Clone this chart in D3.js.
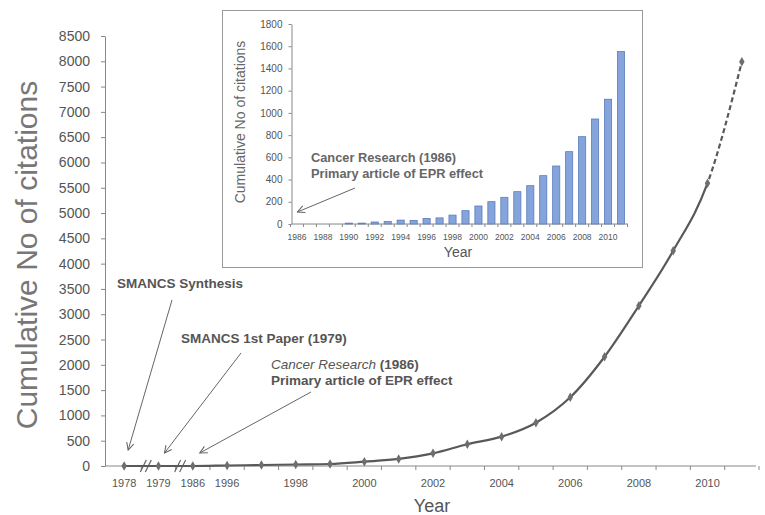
<!DOCTYPE html>
<html>
<head>
<meta charset="utf-8">
<script src="https://cdn.jsdelivr.net/npm/d3@7"></script>
<style>
    body { margin: 0; background: #fff; }
    svg { display: block; font-family: "Liberation Sans", Arial, sans-serif; }
</style>
</head>
<body>
<div id="chart"></div>
<script>
// Main chart data (cumulative citations)
const mainYears = ['1978', '1979', '1986', '1996', '1997', '1998', '1999', '2000', '2001', '2002',
    '2003', '2004', '2005', '2006', '2007', '2008', '2009', '2010', '2011'];
const mainValues = [0, 0, 0, 10, 20, 30, 40, 85, 140, 250, 430, 580, 856, 1358, 2160, 3168, 4255, 5590, 7990];
const mainTickLabels = ['1978', '1979', '1986', '1996', '1998', '2000', '2002', '2004', '2006', '2008', '2010'];
const mainYTicks = [0, 500, 1000, 1500, 2000, 2500, 3000, 3500, 4000, 4500, 5000, 5500, 6000, 6500, 7000, 7500, 8000, 8500];

// Inset data (Cancer Research 1986 article)
const insetYears = ['1986', '1987', '1988', '1989', '1990', '1991', '1992', '1993', '1994', '1995', '1996', '1997', '1998',
    '1999', '2000', '2001', '2002', '2003', '2004', '2005', '2006', '2007', '2008', '2009', '2010', '2011'];
const insetValues = [0, 0, 0, 0, 8, 8, 18, 22, 35, 32, 50, 55, 80, 120, 162, 201, 240, 291, 345, 435, 522, 651, 786, 945, 1123, 1552];
const insetTickLabels = ['1986', '1988', '1990', '1992', '1994', '1996', '1998', '2000', '2002', '2004', '2006', '2008', '2010'];
const insetYTicks = [0, 200, 400, 600, 800, 1000, 1200, 1400, 1600, 1800];

const width = 765;
const height = 515;
const textColor = '#555';
const axisColor = '#888';

const svg = d3.select('#chart')
    .append('svg')
    .attr('width', width)
    .attr('height', height);

// Arrow marker
svg.append('defs')
    .append('marker')
    .attr('id', 'arrow')
    .attr('viewBox', '0 0 10 10')
    .attr('refX', 9)
    .attr('refY', 5)
    .attr('markerWidth', 9)
    .attr('markerHeight', 9)
    .attr('markerUnits', 'userSpaceOnUse')
    .attr('orient', 'auto')
    .append('path')
    .attr('d', 'M1,1 L9,5 L1,9')
    .attr('fill', 'none')
    .attr('stroke', '#666')
    .attr('stroke-width', 1.2);

// ---------- Main chart ----------
const x = d3.scaleBand()
    .domain(mainYears)
    .range([107, 759]);
const bw = x.bandwidth();
const cx = d => x(d) + bw / 2;

const y = d3.scaleLinear()
    .domain([0, 8500])
    .range([466, 36]);

// Y axis
const yAxis = svg.append('g')
    .attr('transform', 'translate(105,0)')
    .call(d3.axisLeft(y).tickValues(mainYTicks).tickFormat(d3.format('d'))
        .tickSize(4).tickPadding(11).tickSizeOuter(0));
yAxis.select('.domain').attr('stroke', axisColor);
yAxis.selectAll('.tick line').attr('stroke', axisColor);
yAxis.selectAll('text').attr('fill', textColor).attr('font-size', 14);

// X axis
const xAxis = svg.append('g')
    .attr('transform', `translate(0,${y(0)})`)
    .call(d3.axisBottom(x).tickValues(mainTickLabels).tickSize(0).tickPadding(13));
xAxis.select('.domain').attr('stroke', axisColor).attr('d', `M105,0H756`);
xAxis.selectAll('text').attr('fill', textColor).attr('font-size', 11);

// X tick marks at category boundaries
xAxis.selectAll('.bound')
    .data(mainYears.slice(1).concat(['end']))
    .join('line')
    .attr('class', 'bound')
    .attr('x1', d => d === 'end' ? x.range()[1] : x(d))
    .attr('x2', d => d === 'end' ? x.range()[1] : x(d))
    .attr('y1', 0)
    .attr('y2', 4)
    .attr('stroke', axisColor);

// Axis break marks
[['1978', '1979'], ['1979', '1986']].forEach(pair => {
    const mid = x(pair[1]) + 6;
    [-4, 1].forEach(off => {
        xAxis.append('line')
            .attr('x1', mid + off - 3)
            .attr('x2', mid + off + 3)
            .attr('y1', 6)
            .attr('y2', -6)
            .attr('stroke', '#666')
            .attr('stroke-width', 1.2);
    });
});

// Axis titles
svg.append('text')
    .attr('transform', `translate(37,${(y(0) + y(8500)) / 2 + 4}) rotate(-90)`)
    .attr('text-anchor', 'middle')
    .attr('font-size', 30)
    .attr('fill', '#777')
    .text('Cumulative No of citations');

svg.append('text')
    .attr('x', 432)
    .attr('y', 512)
    .attr('text-anchor', 'middle')
    .attr('font-size', 18)
    .attr('fill', textColor)
    .text('Year');

// Line
const mainData = mainYears.map((d, i) => ({ year: d, value: mainValues[i] }));
const line = d3.line()
    .x(d => cx(d.year))
    .y(d => y(d.value))
    .curve(d3.curveMonotoneX);

const splitX = cx('2010');
const clips = svg.select('defs');
clips.append('clipPath').attr('id', 'clip-solid')
    .append('rect').attr('x', 0).attr('y', 0).attr('width', splitX).attr('height', height);
clips.append('clipPath').attr('id', 'clip-dash')
    .append('rect').attr('x', splitX).attr('y', 0).attr('width', width - splitX).attr('height', height);

svg.append('path')
    .datum(mainData)
    .attr('d', line)
    .attr('fill', 'none')
    .attr('stroke', '#595959')
    .attr('stroke-width', 2.2)
    .attr('clip-path', 'url(#clip-solid)');

svg.append('path')
    .datum(mainData)
    .attr('d', line)
    .attr('fill', 'none')
    .attr('stroke', '#595959')
    .attr('stroke-width', 2.2)
    .attr('stroke-dasharray', '5,3')
    .attr('clip-path', 'url(#clip-dash)');

// Markers
svg.append('g')
    .selectAll('path')
    .data(mainData)
    .join('path')
    .attr('transform', d => `translate(${cx(d.year)},${y(d.value)})`)
    .attr('d', d3.symbol(d3.symbolDiamond, 26))
    .attr('fill', '#6e6e6e');

// Annotations
const annotations = [
    { lines: [[{ t: 'SMANCS Synthesis', w: 'bold' }]], tx: 117, ty: 288, from: [172, 300], year: '1978', dx: 4, dy: -16 },
    { lines: [[{ t: 'SMANCS 1st Paper (1979)', w: 'bold' }]], tx: 181, ty: 343, from: [241, 353], year: '1979', dx: 6, dy: -13 },
    {
        lines: [[{ t: 'Cancer Research', s: 'italic' }, { t: ' (1986)', w: 'bold' }],
            [{ t: 'Primary article of EPR effect', w: 'bold' }]],
        tx: 271, ty: 369, from: [311, 392], year: '1986', dx: 7, dy: -13
    }
];

annotations.forEach(a => {
    a.lines.forEach((ln, i) => {
        const t = svg.append('text')
            .attr('x', a.tx)
            .attr('y', a.ty + i * 16)
            .attr('font-size', 13.5)
            .attr('fill', textColor);
        ln.forEach(part => {
            t.append('tspan')
                .attr('font-weight', part.w || 'normal')
                .attr('font-style', part.s || 'normal')
                .text(part.t);
        });
    });
    svg.append('line')
        .attr('x1', a.from[0])
        .attr('y1', a.from[1])
        .attr('x2', cx(a.year) + a.dx)
        .attr('y2', y(0) + a.dy)
        .attr('stroke', '#666')
        .attr('stroke-width', 1)
        .attr('marker-end', 'url(#arrow)');
});

// ---------- Inset chart ----------
const inset = svg.append('g');

inset.append('rect')
    .attr('x', 222.5)
    .attr('y', 10.5)
    .attr('width', 420)
    .attr('height', 257)
    .attr('fill', '#fff')
    .attr('stroke', '#999');

const ix = d3.scaleBand()
    .domain(insetYears)
    .range([290.5, 627.5])
    .paddingInner(0.45)
    .paddingOuter(0.225);

const iy = d3.scaleLinear()
    .domain([0, 1800])
    .range([224, 24]);

// Inset Y axis
const iyAxis = inset.append('g')
    .attr('transform', 'translate(291.5,0)')
    .call(d3.axisLeft(iy).tickValues(insetYTicks).tickFormat(d3.format('d'))
        .tickSize(3).tickPadding(6).tickSizeOuter(0));
iyAxis.select('.domain').attr('stroke', axisColor);
iyAxis.selectAll('.tick line').attr('stroke', axisColor);
iyAxis.selectAll('text').attr('fill', textColor).attr('font-size', 10);

// Inset X axis
const ixAxis = inset.append('g')
    .attr('transform', `translate(0,${iy(0)})`)
    .call(d3.axisBottom(ix).tickValues(insetTickLabels).tickSize(0).tickPadding(10));
ixAxis.select('.domain').attr('stroke', axisColor).attr('d', 'M291.5,0H628');
ixAxis.selectAll('text').attr('fill', textColor).attr('font-size', 8.5);

const step = ix.step();
ixAxis.selectAll('.bound')
    .data(insetYears.concat(['end']))
    .join('line')
    .attr('class', 'bound')
    .attr('x1', d => d === 'end' ? ix.range()[1] : ix(d) - ix.paddingOuter() * step)
    .attr('x2', d => d === 'end' ? ix.range()[1] : ix(d) - ix.paddingOuter() * step)
    .attr('y1', 0)
    .attr('y2', 3)
    .attr('stroke', axisColor);

// Inset bars
inset.append('g')
    .selectAll('rect')
    .data(insetYears.map((d, i) => ({ year: d, value: insetValues[i] })).filter(d => d.value > 0))
    .join('rect')
    .attr('x', d => ix(d.year))
    .attr('y', d => iy(d.value))
    .attr('width', ix.bandwidth())
    .attr('height', d => iy(0) - iy(d.value))
    .attr('fill', '#86a4dc')
    .attr('stroke', '#5a7cba')
    .attr('stroke-width', 0.8);

// Inset titles
inset.append('text')
    .attr('transform', `translate(245,${(iy(0) + iy(1800)) / 2 - 2}) rotate(-90)`)
    .attr('text-anchor', 'middle')
    .attr('font-size', 14)
    .attr('fill', '#666')
    .text('Cumulative No of citations');

inset.append('text')
    .attr('x', 458)
    .attr('y', 257)
    .attr('text-anchor', 'middle')
    .attr('font-size', 14)
    .attr('fill', textColor)
    .text('Year');

// Inset annotation
['Cancer Research (1986)', 'Primary article of EPR effect'].forEach((t, i) => {
    inset.append('text')
        .attr('x', 311)
        .attr('y', 162 + i * 16)
        .attr('font-size', 12.8)
        .attr('font-weight', 'bold')
        .attr('fill', '#666')
        .text(t);
});

inset.append('line')
    .attr('x1', 355)
    .attr('y1', 188)
    .attr('x2', ix('1986') + 4)
    .attr('y2', iy(0) - 12)
    .attr('stroke', '#666')
    .attr('stroke-width', 1)
    .attr('marker-end', 'url(#arrow)');
</script>
</body>
</html>
